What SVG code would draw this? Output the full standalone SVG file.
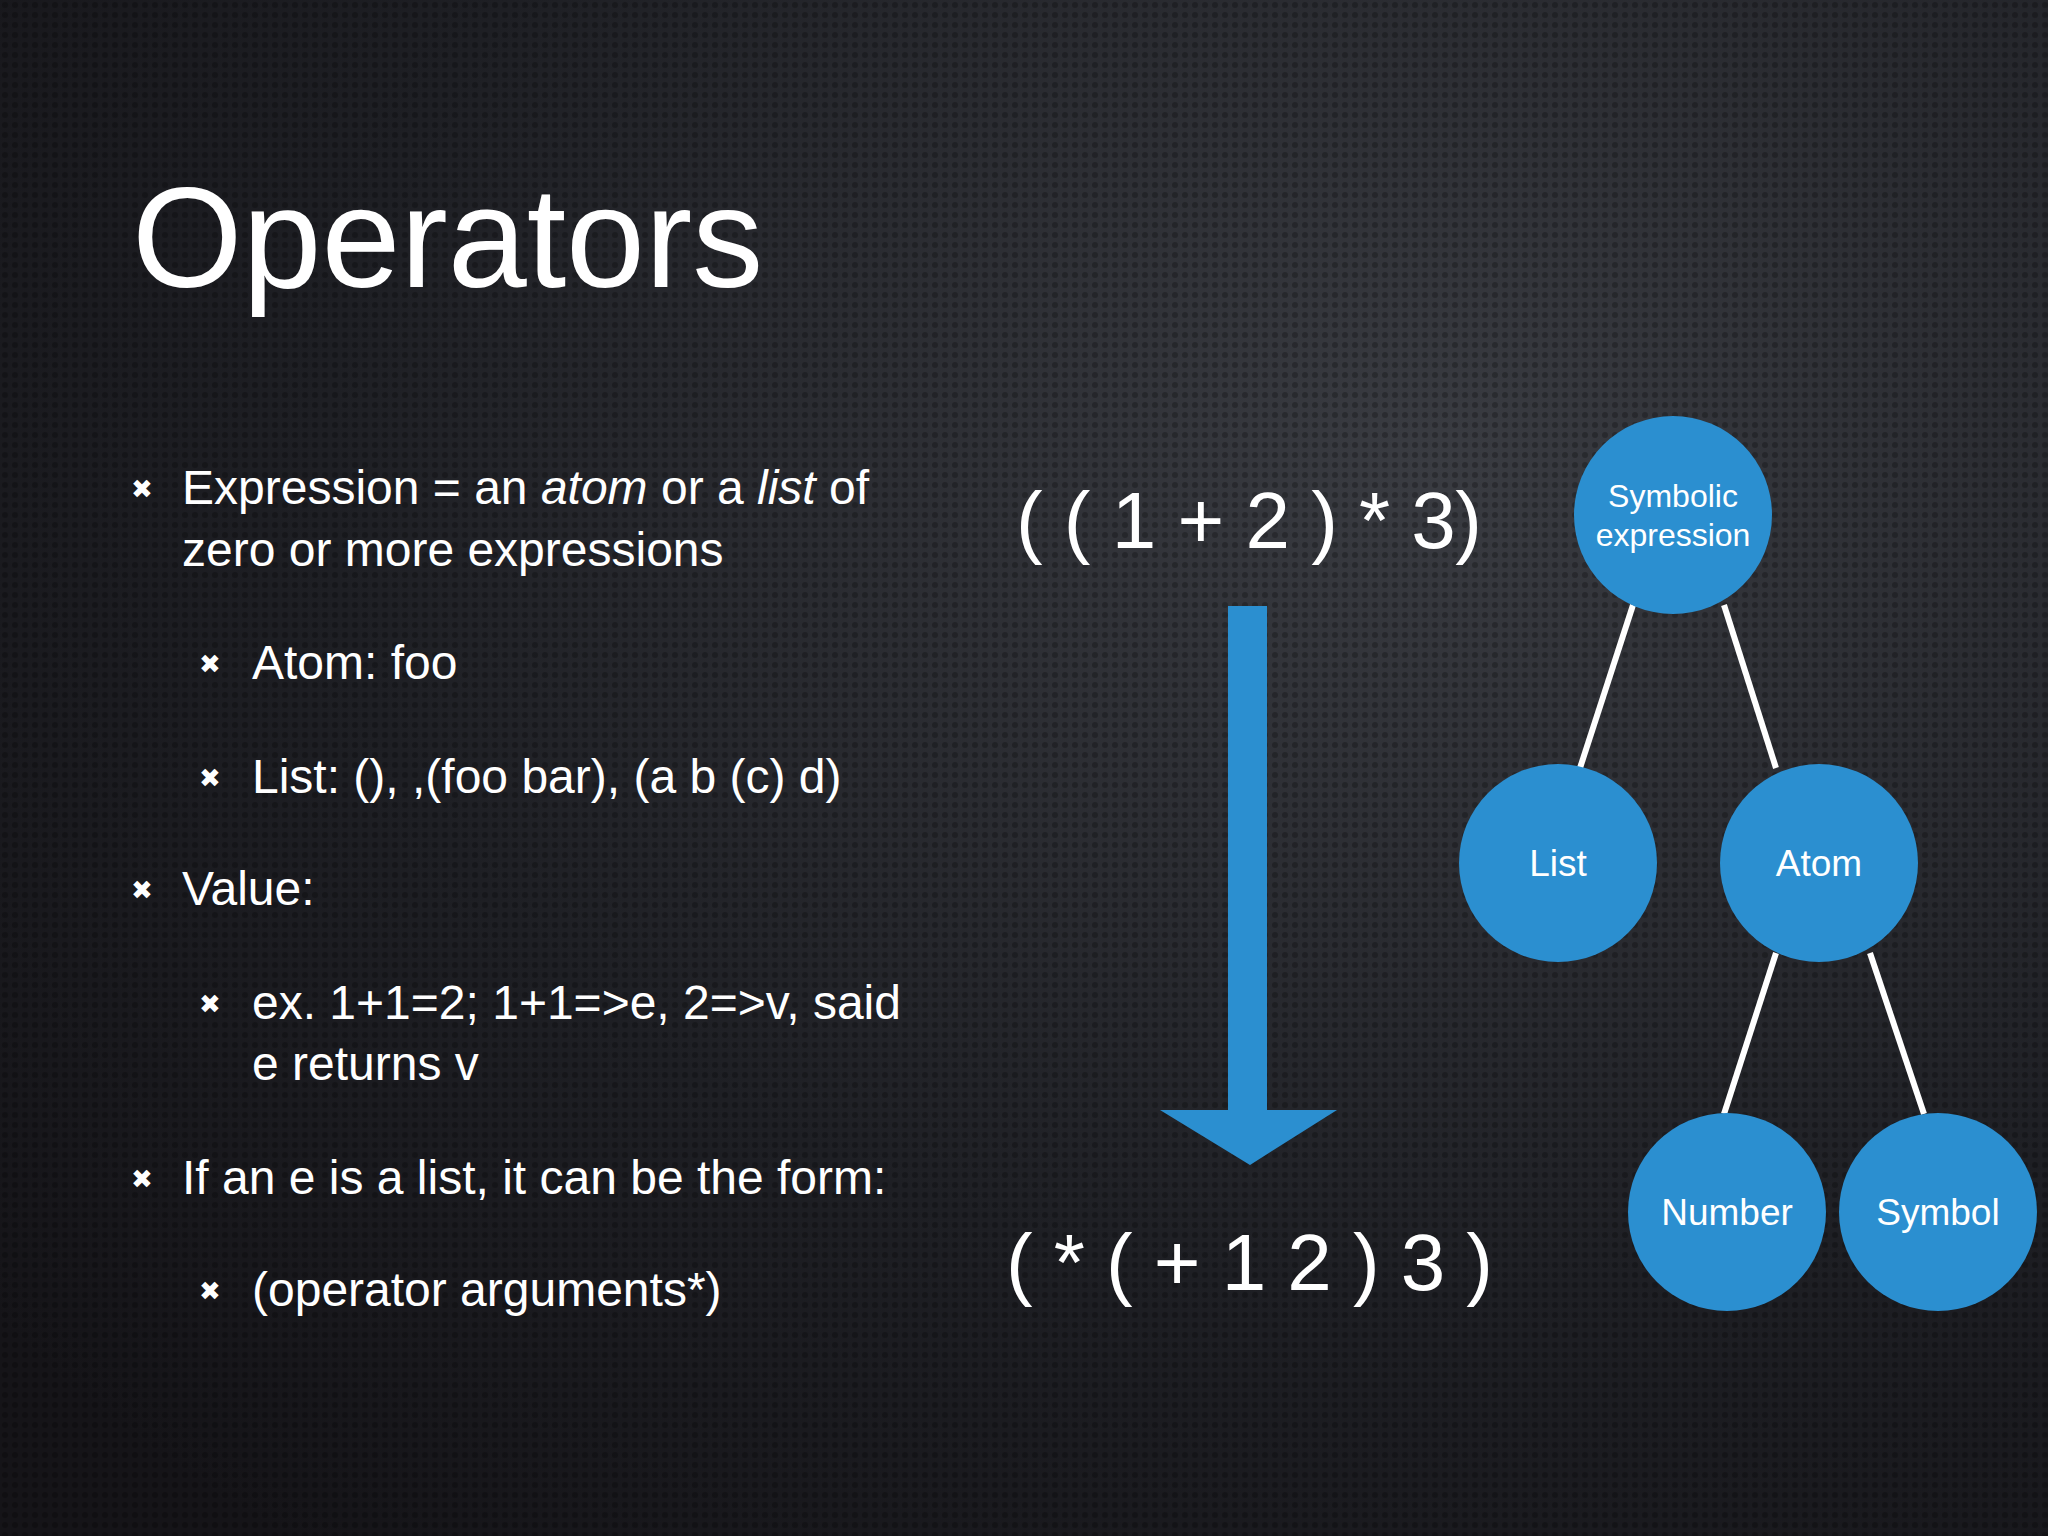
<svg xmlns="http://www.w3.org/2000/svg" width="2048" height="1536" viewBox="0 0 2048 1536">
<defs>
<radialGradient id="bg" cx="0.7" cy="0.3" r="0.9"><stop offset="0" stop-color="#3a3c42"/><stop offset="0.6" stop-color="#1e1f24"/><stop offset="1" stop-color="#151418"/></radialGradient>
<pattern id="dots" width="10" height="10" patternUnits="userSpaceOnUse"><circle cx="5" cy="5" r="3" fill="#000" opacity="0.25"/></pattern>
<style>
.t{font-family:"Helvetica Neue","Liberation Sans",Arial,sans-serif;fill:#fff}
.b{font-size:48px}
.n{fill:#2b8fd0}
.c{stroke:#fff;stroke-width:6}
.nl{font-family:"Liberation Sans",Arial,sans-serif;fill:#fff;font-size:37px;text-anchor:middle}
.m{font-size:26px}
</style>
</defs>
<rect width="2048" height="1536" fill="url(#bg)"/>
<rect width="2048" height="1536" fill="url(#dots)"/>
<text class="t" x="132" y="287" font-size="142">Operators</text>
<g class="t b">
<text class="m" x="131" y="498">✖</text><text x="182" y="504">Expression = an <tspan font-style="italic">atom</tspan> or a <tspan font-style="italic">list</tspan> of</text>
<text x="182" y="566">zero or more expressions</text>
<text class="m" x="199" y="673">✖</text><text x="252" y="679">Atom: foo</text>
<text class="m" x="199" y="787">✖</text><text x="252" y="793">List: (), ,(foo bar), (a b (c) d)</text>
<text class="m" x="131" y="899">✖</text><text x="182" y="905">Value:</text>
<text class="m" x="199" y="1013">✖</text><text x="252" y="1019">ex. 1+1=2; 1+1=&gt;e, 2=&gt;v, said</text>
<text x="252" y="1080">e returns v</text>
<text class="m" x="131" y="1188">✖</text><text x="182" y="1194">If an e is a list, it can be the form:</text>
<text class="m" x="199" y="1300">✖</text><text x="252" y="1306">(operator arguments*)</text>
</g>
<text class="t" x="1016" y="548" font-size="80" textLength="466">( ( 1 + 2 ) * 3)</text>
<text class="t" x="1006" y="1290" font-size="80" textLength="487">( * ( + 1 2 ) 3 )</text>
<path d="M1228 606H1267V1110H1337L1250 1165L1160 1110H1228Z" fill="#2b8fd0"/>
<g id="connectors">
<line class="c" x1="1633" y1="605" x2="1580" y2="768"/>
<line class="c" x1="1724" y1="605" x2="1776" y2="768"/>
<line class="c" x1="1776" y1="953" x2="1724" y2="1114"/>
<line class="c" x1="1870" y1="953" x2="1924" y2="1114"/>
</g>
<g id="symbolic"><circle class="n" cx="1673" cy="515" r="99"/><text class="nl" x="1673" y="507" style="font-size:32px">Symbolic</text><text class="nl" x="1673" y="546" style="font-size:32px">expression</text></g>
<g id="list"><circle class="n" cx="1558" cy="863" r="99"/><text class="nl" x="1558" y="876">List</text></g>
<g id="atom"><circle class="n" cx="1819" cy="863" r="99"/><text class="nl" x="1819" y="876">Atom</text></g>
<g id="number"><circle class="n" cx="1727" cy="1212" r="99"/><text class="nl" x="1727" y="1225">Number</text></g>
<g id="symbol"><circle class="n" cx="1938" cy="1212" r="99"/><text class="nl" x="1938" y="1225">Symbol</text></g>
</svg>
